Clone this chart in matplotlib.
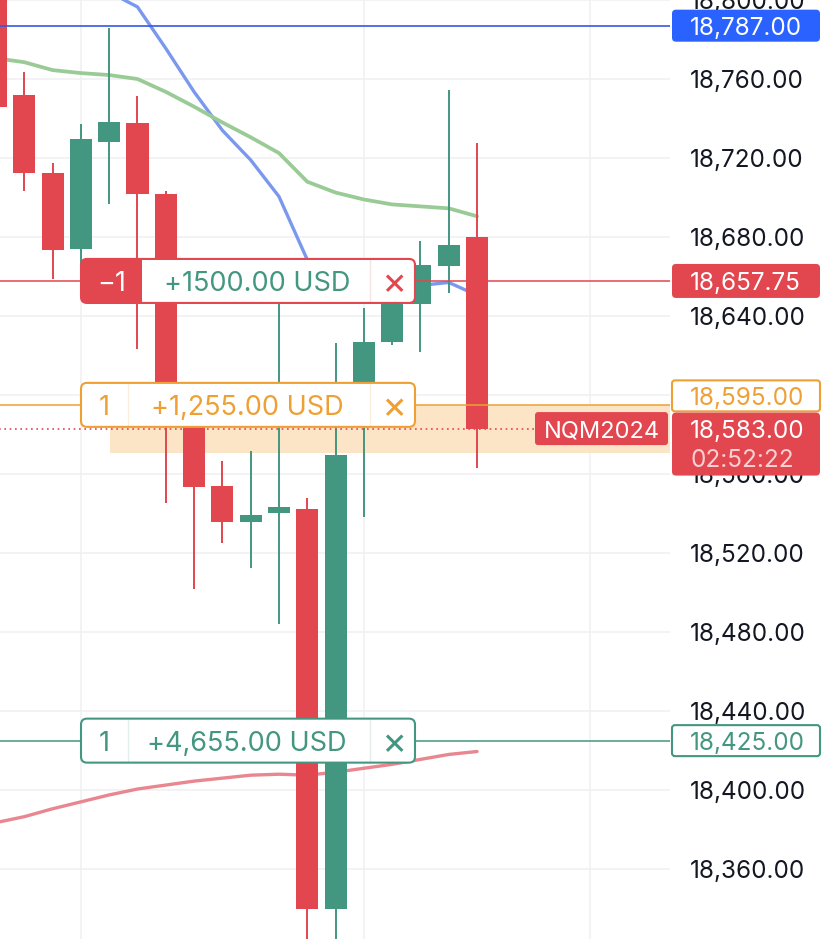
import numpy as np
import matplotlib.pyplot as plt
from matplotlib.patches import FancyBboxPatch, Rectangle
from matplotlib.lines import Line2D
from matplotlib.transforms import IdentityTransform

plt.rcParams['font.family'] = ['Inter', 'DejaVu Sans']

# candle data (NQM2024)
opens  = [18830, 18752, 18712.5, 18674, 18728, 18737.75, 18702, 18598, 18554,
          18535.75, 18540.25, 18542.25, 18339.75, 18595, 18626.75, 18646, 18665.25, 18680]
highs  = [18840, 18763.5, 18717.5, 18737.25, 18786, 18751.5, 18703.5, 18599, 18566.5,
          18571.5, 18646.5, 18547.75, 18626.25, 18644, 18650, 18678, 18754.5, 18727.5]
lows   = [18745.5, 18703.25, 18658.75, 18663, 18696.75, 18623.25, 18545.25, 18501.75, 18525,
          18512.5, 18484, 18315, 18318, 18538.25, 18625.5, 18621.75, 18651.5, 18563]
closes = [18745.75, 18712.5, 18673.5, 18729.5, 18738.25, 18701.75, 18598, 18553.5, 18535.75,
          18539.25, 18543.25, 18339.75, 18569.5, 18626.75, 18648, 18665.75, 18676, 18583]

# moving averages
ma_fast = [18850, 18838, 18826, 18814, 18804, 18796.5, 18775.5, 18753.5, 18734,
           18719, 18700.5, 18668.5, 18656, 18655, 18654.5, 18655.5, 18657, 18650.5]
ma_mid  = [18770.5, 18768.5, 18764.5, 18763, 18762, 18760, 18753.5, 18746, 18738,
           18730.5, 18722.5, 18708, 18702.5, 18699, 18696.5, 18695.5, 18694.5, 18690.5]
ma_slow = [18383.5, 18386.5, 18390.5, 18394, 18397.5, 18400.5, 18402.5, 18404.5, 18406,
           18407.5, 18408, 18407.5, 18409, 18411, 18413, 18415.5, 18418, 18419.5]

# orders / levels
alert_price = 18787.00
short_price = 18657.75
long1_price = 18595.00
long2_price = 18425.00
last_price = 18583.00
zone_top, zone_bottom = 18595, 18570.5
short_pnl = "+1500.00 USD"
long1_pnl = "+1,255.00 USD"
long2_pnl = "+4,655.00 USD"
symbol = "NQM2024"
countdown = "02:52:22"

RED = "#e2464f"
GREEN = "#439680"
ORANGE = "#eea035"
BLUE = "#2962ff"
TXT = "#131722"

W, H = 828, 939
fig = plt.figure(figsize=(W / 100, H / 100), dpi=100)
ax = fig.add_axes([0, 0, 670 / W, 1])

xs = np.arange(len(opens))
o = np.array(opens); c = np.array(closes)
cols = [GREEN if cc >= oo else RED for oo, cc in zip(o, c)]

ax.vlines(xs, lows, highs, colors=cols, lw=1.4, zorder=3)
ax.bar(xs, np.abs(c - o), bottom=np.minimum(o, c), width=0.78, color=cols, zorder=3.1)

ax.plot(xs, ma_fast, color="#7b98ef", lw=2.4, zorder=2.5, solid_capstyle='round')
ax.plot(xs, ma_mid, color="#9acb96", lw=2.7, zorder=2.5, solid_capstyle='round')
ax.plot(xs, ma_slow, color="#e8878f", lw=2.4, zorder=2.5, solid_capstyle='round')

ax.set_xlim(0.141, 23.82)
ax.set_ylim(18324.56, 18800)

# shaded zone
ax.add_patch(Rectangle((4.03, zone_bottom), 30, zone_top - zone_bottom,
                       color="#fce4c6", zorder=1, lw=0))

# level lines
ax.axhline(alert_price, color="#3359e6", lw=1.2, zorder=4)
ax.axhline(short_price, color=RED, lw=1.1, zorder=4)
ax.axhline(long1_price, color=ORANGE, lw=1.1, zorder=4)
ax.axhline(long2_price, color=GREEN, lw=1.1, zorder=4)
ax.plot([0, 19.0], [last_price, last_price], color=RED, lw=1.2, ls=(0, (1, 2.2)), zorder=4)

FS = 17.5
ticks = np.arange(18360, 18801, 40)
ax.set_yticks(ticks)
ax.set_yticklabels([f"{t:,.2f}" for t in ticks])
ax.yaxis.tick_right()
ax.tick_params(axis='y', length=0, pad=14.4, labelsize=FS, labelcolor=TXT)
ax.set_xticks([3, 13, 21])
ax.tick_params(axis='x', length=0, labelbottom=False)
ax.grid(color="#f0f0f2", lw=1.1, zorder=0)
ax.set_axisbelow(True)
for s in ax.spines.values():
    s.set_visible(False)

ID = IdentityTransform()


def ypix(price):
    return ax.transData.transform((0, price))[1]


def rbox(x0, y0, w, h, fc, ec='none', lw=0, r=6, z=6):
    p = FancyBboxPatch((x0, y0), w, h, boxstyle=f"round,pad=0,rounding_size={r}",
                       fc=fc, ec=ec, lw=lw, transform=ID, zorder=z)
    fig.add_artist(p)


def txt(x, y, s, color, ha='center', size=FS, z=8):
    fig.text(x, y, s, color=color, ha=ha, va='center_baseline', fontsize=size,
             transform=ID, zorder=z)


def bubble(price, col, qty, pnl, pnl_col, sep_col, qty_fill=None):
    yc = ypix(price)
    h = 44
    x0, x1, s1, s2 = 81, 415, 142, 370
    bs = 19.5
    rbox(x0, yc - h / 2, x1 - x0, h, 'white', z=6)
    if qty_fill is not None:
        rbox(x0, yc - h / 2, s1 - x0 + 12, h, qty_fill, z=6.1)
        fig.add_artist(Rectangle((s1, yc - h / 2 + 1), 14, h - 2, fc='white', lw=0,
                                 transform=ID, zorder=6.2))
        qcol = 'white'
    else:
        qcol = col
        fig.add_artist(Line2D([s1 - 14, s1 - 14], [yc - h / 2 + 1, yc + h / 2 - 1],
                              color=sep_col, lw=1, transform=ID, zorder=6.3))
    fig.add_artist(Line2D([s2, s2], [yc - h / 2 + 1, yc + h / 2 - 1], color=sep_col,
                          lw=1, transform=ID, zorder=6.3))
    rbox(x0, yc - h / 2, x1 - x0, h, 'none', ec=col, lw=1.5, z=6.5)
    if qty_fill is not None:
        txt((x0 + s1) / 2, yc, qty, qcol, size=bs)
        txt((s1 + s2) / 2 + 1, yc, pnl, pnl_col, size=bs)
    else:
        txt(104.5, yc, qty, qcol, size=bs)
        txt(247, yc, pnl, pnl_col, size=bs)
    txt((s2 + x1) / 2 + 1, yc + 1, "\u00d7", col, size=bs + 8)


bubble(short_price, RED, "\u22121", short_pnl, GREEN, "#f4e4e4", qty_fill=RED)
bubble(long1_price, ORANGE, "1", long1_pnl, ORANGE, "#fbefdc")
bubble(long2_price, GREEN, "1", long2_pnl, GREEN, "#e2efeb")

# price-scale labels
LX, LW = 672, 148
tx = 690
yb = ypix(alert_price)
rbox(LX, yb - 16, LW, 32, BLUE, r=4)
txt(tx, yb, f"{alert_price:,.2f}", 'white', ha='left')

yr = ypix(short_price)
rbox(LX, yr - 17, LW, 34, RED, r=4)
txt(tx, yr, f"{short_price:,.2f}", 'white', ha='left')

yo = ypix(long1_price) + 9
rbox(LX, yo - 15.5, LW, 31, 'white', ec=ORANGE, lw=1.5, r=3)
txt(tx, yo, f"{long1_price:,.2f}", ORANGE, ha='left')

yl = ypix(last_price)
rbox(LX, yl - 63 + 16, LW, 63, RED, r=4)
txt(tx, yl, f"{last_price:,.2f}", 'white', ha='left')
txt(tx, yl - 29, countdown, "#fbd0d3", ha='left')
rbox(535, yl - 16.5, 133, 33, RED, r=3)
txt(601.5, yl, symbol, 'white', size=17)

yg = ypix(long2_price)
rbox(LX, yg - 15.5, LW, 31, 'white', ec=GREEN, lw=1.5, r=3)
txt(tx, yg, f"{long2_price:,.2f}", GREEN, ha='left')

fig.savefig("out.png", dpi=100, facecolor='white')
